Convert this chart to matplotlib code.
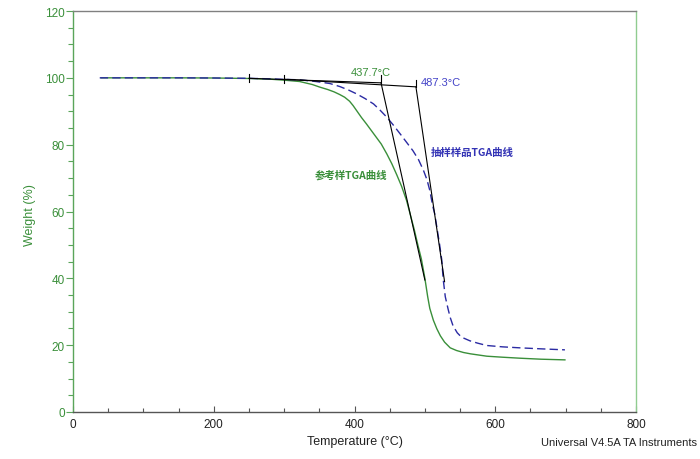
import numpy as np
import matplotlib
matplotlib.use('Agg')
import matplotlib.pyplot as plt
from matplotlib.ticker import MultipleLocator

plt.rcParams['font.family'] = ['Liberation Sans', 'Noto Sans CJK SC', 'DejaVu Sans']

# reference sample (green, solid)
ref_t = [40, 100, 150, 200, 250, 280, 300, 322, 340, 351, 362, 371, 379, 386, 393, 398, 403, 410,
         417, 424, 431, 438, 446, 453, 460, 467, 474, 479, 485, 490, 495, 500, 504, 507, 512,
         517, 522, 528, 536, 545, 555, 565, 588, 610, 635, 665, 699]
ref_w = [100, 100, 100, 99.95, 99.8, 99.6, 99.3, 98.9, 98.0, 97.2, 96.5, 95.8, 95.0, 94.2, 93.0, 91.7, 90.2, 88.1,
         86.2, 84.2, 82.2, 80.2, 77.2, 74.3, 71.0, 67.5, 63.3, 59.3, 54.5, 50.0, 45.8, 40.0, 34.5, 31.0, 27.5,
         24.9, 22.8, 20.9, 19.2, 18.4, 17.8, 17.4, 16.7, 16.4, 16.1, 15.8, 15.6]

# sampled product (blue, dashed)
smp_t = [38, 100, 150, 200, 250, 280, 300, 322, 345, 365, 379, 391, 403, 415, 427, 436, 446, 455,
         465, 474, 483, 491, 498, 503, 507, 511, 514, 518, 521, 524, 526, 529, 533, 536, 540,
         546, 552, 564, 575, 588, 610, 635, 665, 699]
smp_w = [100, 100, 100, 99.95, 99.85, 99.7, 99.55, 99.4, 98.9, 98.3, 97.4, 96.4, 95.2, 93.8, 92.2, 90.4, 88.2, 85.9,
         83.2, 80.7, 78.2, 75.5, 72.3, 69.5, 66.3, 61.8, 59.3, 54.0, 50.0, 45.5, 39.8, 34.5, 30.8, 28.3, 25.8,
         23.7, 22.4, 21.3, 20.6, 19.9, 19.5, 19.2, 18.9, 18.6]

# onset construction lines
onset = [437.7, 487.3]
base_t = [[250, 437.7], [300, 487.3]]
base_w = [[99.85, 98.5], [99.6, 97.3]]
steep_t = [[437.7, 500], [487.3, 528]]
steep_w = [[98.5, 39.5], [97.3, 39.0]]

green = '#3a8f3a'
blue = '#2b2ba3'

fig = plt.figure(figsize=(7, 4.6), dpi=100)
ax = fig.add_axes([73/700, 1-413/460, 563/700, 401/460])

ax.plot(ref_t, ref_w, color=green, lw=1.0)
ax.plot(smp_t, smp_w, color=blue, lw=1.0, dashes=(6, 3))

for i in range(2):
    ax.plot(base_t[i], base_w[i], color='k', lw=0.8)
    ax.plot(steep_t[i], steep_w[i], color='k', lw=0.8)
    # start tick crossing baseline
    ax.plot([base_t[i][0]]*2, [base_w[i][0]-1.2, base_w[i][0]+1.2], color='k', lw=0.8)
    # tick above onset point
    ax.plot([onset[i]]*2, [base_w[i][1], base_w[i][1]+2.2], color='k', lw=0.8)

ax.text(423, 101.8, '437.7°C', color=green, fontsize=8, ha='center', va='center')
ax.text(494, 98.8, '487.3°C', color='#4444c8', fontsize=8, ha='left', va='center')
ax.text(508.5, 77.8, '抽样样品TGA曲线', color='#3333b5', fontsize=7.5, fontweight='bold',
        ha='left', va='center', family=['Noto Sans CJK SC', 'DejaVu Sans'])
ax.text(343.8, 71, '参考样TGA曲线', color=green, fontsize=7.5, fontweight='bold',
        ha='left', va='center', family=['Noto Sans CJK SC', 'DejaVu Sans'])

ax.set_xlim(0, 800)
ax.set_ylim(0, 120)
ax.xaxis.set_major_locator(MultipleLocator(200))
ax.xaxis.set_minor_locator(MultipleLocator(50))
ax.yaxis.set_major_locator(MultipleLocator(20))
ax.yaxis.set_minor_locator(MultipleLocator(5))

ax.tick_params(axis='x', which='major', direction='in', length=4, width=0.8, colors='#555555',
               labelcolor='#222222', labelsize=8.5, pad=4)
ax.tick_params(axis='x', which='minor', direction='in', length=3, width=0.8, colors='#555555')
ax.tick_params(axis='y', which='major', direction='out', length=5, width=0.8, colors='#5aa55a',
               labelcolor=green, labelsize=8.5, pad=1)
ax.tick_params(axis='y', which='minor', direction='out', length=3.3, width=0.8, colors='#5aa55a')

ax.spines['left'].set_color('#5aa55a')
ax.spines['right'].set_color('#90cc90')
ax.spines['top'].set_color('#808080')
ax.spines['bottom'].set_color('#555555')
for s in ax.spines.values():
    s.set_linewidth(1.0)

ax.set_xlabel('Temperature (°C)', fontsize=9, color='#222222')
ax.xaxis.set_label_coords(0.5, -0.058)
ax.set_ylabel('Weight (%)', fontsize=9, color=green)
ax.yaxis.set_label_coords(-0.066, 0.494)

fig.text(697/700, 1-443/460, 'Universal V4.5A TA Instruments', fontsize=8, color='#222222',
         ha='right', va='center')

fig.savefig('out.png', dpi=100)
